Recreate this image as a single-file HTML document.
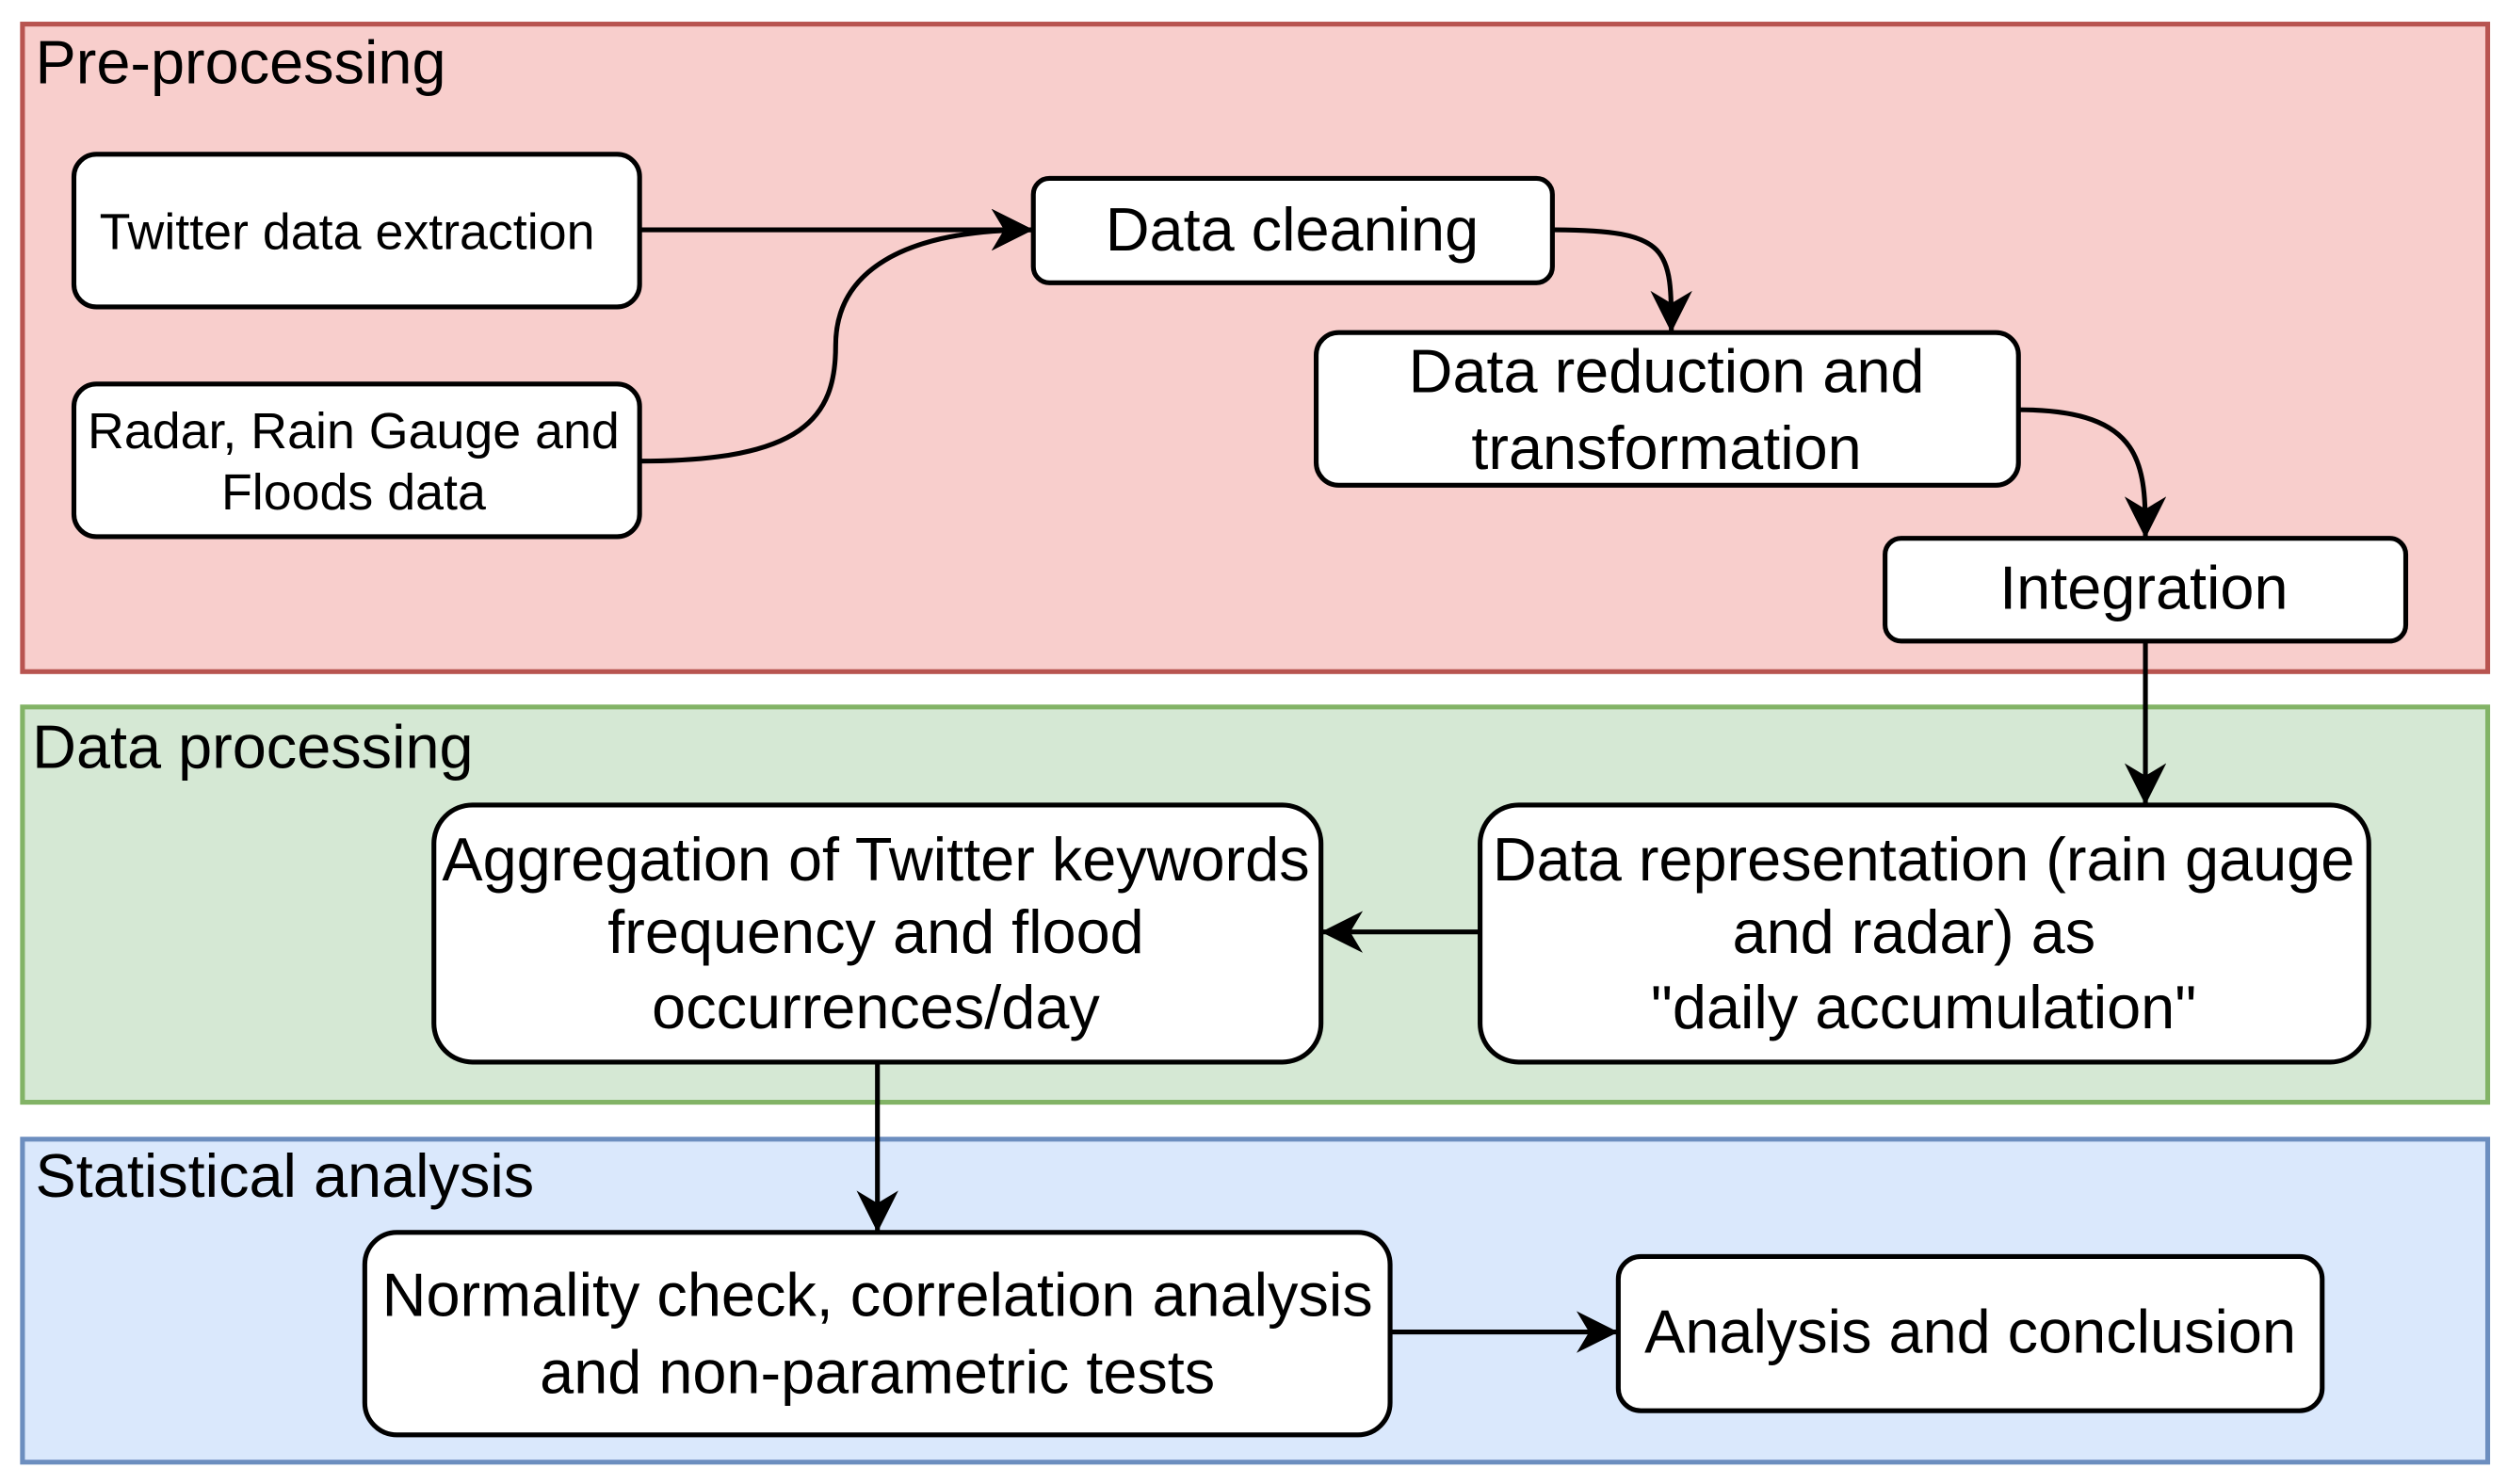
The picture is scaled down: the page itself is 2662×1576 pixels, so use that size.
<!DOCTYPE html>
<html><head><meta charset="utf-8"><style>
html,body{margin:0;padding:0;background:#fff;}
svg{display:block;}
text{font-family:"Liberation Sans",Arial,sans-serif;fill:#000;}
</style></head><body>
<svg width="2662" height="1576" viewBox="0 0 1560 923.6" preserveAspectRatio="none" xmlns="http://www.w3.org/2000/svg">
<defs>
<marker id="a" viewBox="0 0 10 10" refX="10" refY="5" markerWidth="26" markerHeight="26" markerUnits="userSpaceOnUse" orient="auto">
<path d="M0,0 L10,5 L0,10 L3,5 z" fill="#000"/>
</marker>
</defs>
<rect x="14" y="15" width="1534" height="403" fill="#f8cecc" stroke="#b85450" stroke-width="3"/>
<rect x="14" y="440" width="1534" height="246" fill="#d5e8d4" stroke="#82b366" stroke-width="3"/>
<rect x="14" y="709" width="1534" height="201" fill="#dae8fc" stroke="#6c8ebf" stroke-width="3"/>
<text x="22" y="52" font-size="38">Pre-processing</text>
<text x="20" y="478" font-size="38">Data processing</text>
<text x="22" y="745" font-size="38">Statistical analysis</text>

<g fill="#fff" stroke="#000" stroke-width="3">
<rect x="46" y="96" width="352" height="95" rx="14"/>
<rect x="46" y="239" width="352" height="95" rx="14"/>
<rect x="643" y="111" width="323" height="65" rx="10"/>
<rect x="819" y="207" width="437" height="95" rx="14"/>
<rect x="1173" y="335" width="324" height="64" rx="10"/>
<rect x="921" y="501" width="553" height="160" rx="24"/>
<rect x="270" y="501" width="552" height="160" rx="24"/>
<rect x="227" y="767" width="638" height="126" rx="20"/>
<rect x="1007" y="782" width="438" height="96" rx="14"/>
</g>

<g font-size="31.5" text-anchor="middle">
<text x="216" y="155">Twitter data extraction</text>
<text x="220" y="279">Radar, Rain Gauge and</text>
<text x="220" y="317">Floods data</text>
</g>
<g font-size="38" text-anchor="middle">
<text x="804" y="156">Data cleaning</text>
<text x="1037" y="244">Data reduction and</text>
<text x="1037" y="292">transformation</text>
<text x="1334" y="379">Integration</text>
<text x="1197" y="548">Data representation (rain gauge</text>
<text x="1191" y="593">and radar) as</text>
<text x="1197" y="640">"daily accumulation"</text>
<text x="545" y="548">Aggregation of Twitter keywords</text>
<text x="545" y="593">frequency and flood</text>
<text x="545" y="640">occurrences/day</text>
<text x="546" y="819">Normality check, correlation analysis</text>
<text x="546" y="867">and non-parametric tests</text>
<text x="1226" y="842">Analysis and conclusion</text>
</g>

<g fill="none" stroke="#000" stroke-width="3" marker-end="url(#a)">
<path d="M398 143 L643 143"/>
<path d="M398 287 C500 287 520 260 520 215 C520 170 560 143 643 143"/>
<path d="M966 143 C1040 143 1040 155 1040 207"/>
<path d="M1256 255 C1335 255 1335 290 1335 335"/>
<path d="M1335 399 L1335 501"/>
<path d="M921 580 L822 580"/>
<path d="M546 661 L546 767"/>
<path d="M865 829 L1007 829"/>
</g>
</svg>
</body></html>
